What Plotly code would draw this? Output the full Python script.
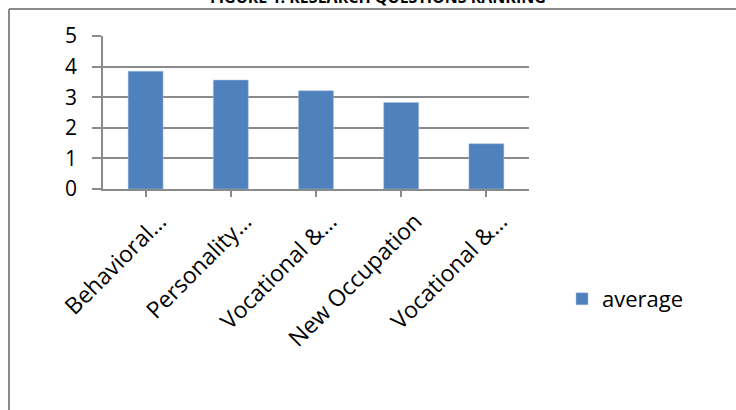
import plotly.graph_objects as go

categories = ["Behavioral…", "Personality…", "Vocational &…", "New Occupation", "Vocational &…"]
average = [3.85, 3.56, 3.21, 2.83, 1.48]
y_ticks = [0, 1, 2, 3, 4, 5]
title_text = "FIGURE 1: RESEARCH QUESTIONS RANKING"

W, H = 736, 410
L, R, T, B = 103, 207, 36, 221
pw = W - L - R
ph = H - T - B

def px_to_paper_x(px):
    return (px - L) / pw

def px_to_paper_y(py):
    return (H - B - py) / ph

FONT = "Open Sans, Carlito, Calibri, sans-serif"
GRAY = "#8a8a8a"

fig = go.Figure()
fig.add_trace(go.Bar(
    x=list(range(len(categories))),
    y=average,
    name="average",
    marker=dict(color="#4f81bd", line=dict(color="#a7c0de", width=0.5)),
    width=0.41,
))

fig.update_layout(
    width=W, height=H,
    margin=dict(l=L, r=R, t=T, b=B, pad=0),
    paper_bgcolor="white",
    plot_bgcolor="white",
    font=dict(family=FONT, color="black", size=20),
    showlegend=True,
    legend=dict(
        x=px_to_paper_x(562), y=px_to_paper_y(299),
        xanchor="left", yanchor="middle",
        font=dict(size=22, family=FONT),
        bgcolor="rgba(0,0,0,0)",
        itemwidth=30,
    ),
    xaxis=dict(
        tickmode="array",
        tickvals=list(range(len(categories))),
        ticktext=categories,
        range=[-0.5, 4.5],
        tickangle=-45,
        ticks="outside", ticklen=6, tickcolor=GRAY, tickwidth=1.5,
        showline=True, linecolor=GRAY, linewidth=1.5,
        showgrid=False, zeroline=False,
        tickfont=dict(size=23, family=FONT),
        ticklabelshift=14,
        ticklabelstandoff=2,
    ),
    yaxis=dict(
        range=[0, 5],
        tickmode="array",
        tickvals=y_ticks,
        ticktext=[str(v) for v in y_ticks],
        ticks="outside", ticklen=9, tickcolor=GRAY, tickwidth=1.5,
        showline=True, linecolor=GRAY, linewidth=1.5,
        showgrid=True, gridcolor=GRAY, gridwidth=1.5,
        zeroline=False,
        tickfont=dict(size=21, family=FONT),
        ticklabelstandoff=11,
    ),
    shapes=[
        dict(type="line", xref="paper", yref="paper",
             x0=px_to_paper_x(9), x1=px_to_paper_x(740),
             y0=px_to_paper_y(9), y1=px_to_paper_y(9),
             line=dict(color=GRAY, width=2)),
        dict(type="line", xref="paper", yref="paper",
             x0=px_to_paper_x(9), x1=px_to_paper_x(9),
             y0=px_to_paper_y(9), y1=px_to_paper_y(415),
             line=dict(color=GRAY, width=2)),
    ],
    annotations=[
        dict(text="<b>" + title_text + "</b>", xref="paper", yref="paper",
             x=px_to_paper_x(378), y=px_to_paper_y(-3),
             xanchor="center", yanchor="middle", showarrow=False,
             font=dict(size=16, family=FONT, color="black")),
    ],
)

fig.update_xaxes(tickson="boundaries")

fig.write_html("out.html")
